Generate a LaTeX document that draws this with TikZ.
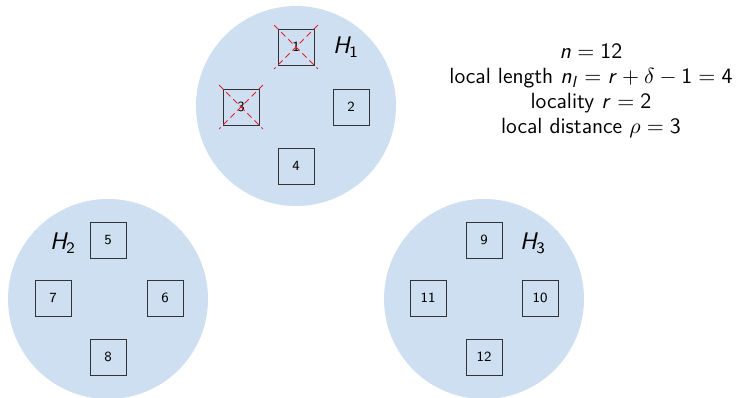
\documentclass[tikz,border=0pt]{standalone}
\usepackage{amsmath,amssymb}
\usepackage{xcolor}
\usepackage{tikz}
\usetikzlibrary{positioning}
\definecolor{groupblue}{RGB}{205,223,240}
\definecolor{crossred}{RGB}{235,30,40}
% sans serif math letters and digits
\DeclareSymbolFont{sfletters}{OT1}{cmss}{m}{sl}
\SetSymbolFont{operators}{normal}{OT1}{cmss}{m}{n}
\DeclareMathSymbol{n}{\mathalpha}{sfletters}{`n}
\DeclareMathSymbol{l}{\mathalpha}{sfletters}{`l}
\DeclareMathSymbol{r}{\mathalpha}{sfletters}{`r}
\DeclareMathSymbol{H}{\mathalpha}{sfletters}{`H}

\begin{document}
\sffamily
\begin{tikzpicture}[x=0.5pt, y=-0.5pt,
        group/.style={circle, fill=groupblue, minimum size=100pt, inner sep=0pt},
        node box/.style={rectangle, draw=black!80, thin, minimum size=18pt,
                   inner sep=0pt, font=\scriptsize},
        grp label/.style={font=\large},
        crossline/.style={densely dashed, crossred, thin,
                   shorten <=-2.5pt, shorten >=-2.5pt}
    ]
        \useasboundingbox (0,0) rectangle (738,397);

        % local groups
        \node[group] (g1) at (296,106) {};
        \node[group] (g2) at (108,299) {};
        \node[group] (g3) at (484,299) {};

        % group H1
        \node[node box] (n1) at (296,47) {1};
        \node[node box] (n2) at (351,107) {2};
        \node[node box] (n3) at (241,107) {3};
        \node[node box] (n4) at (296,166) {4};
        \node[grp label] (h1) at (346,47) {$H_1$};

        % group H2
        \node[node box] (n5) at (108,240) {5};
        \node[node box] (n6) at (165,298) {6};
        \node[node box] (n7) at (53,298) {7};
        \node[node box] (n8) at (108,357) {8};
        \node[grp label] (h2) at (63,243) {$H_2$};

        % group H3
        \node[node box] (n9) at (484,240) {9};
        \node[node box] (n10) at (540,298) {10};
        \node[node box] (n11) at (428,298) {11};
        \node[node box] (n12) at (484,357) {12};
        \node[grp label] (h3) at (533,243) {$H_3$};

        % failed nodes
        \draw[crossline] (n1.north west) -- (n1.south east);
        \draw[crossline] (n1.north east) -- (n1.south west);
        \draw[crossline] (n3.north west) -- (n3.south east);
        \draw[crossline] (n3.north east) -- (n3.south west);

        % parameters
        \node[align=center, font={\fontsize{11}{12.5}\selectfont}] (params) at (591,91)
            {$n=12$\\ local length $n_l=r+\delta-1=4$\\ locality $r=2$\\ local distance $\rho=3$};
    \end{tikzpicture}
\end{document}
